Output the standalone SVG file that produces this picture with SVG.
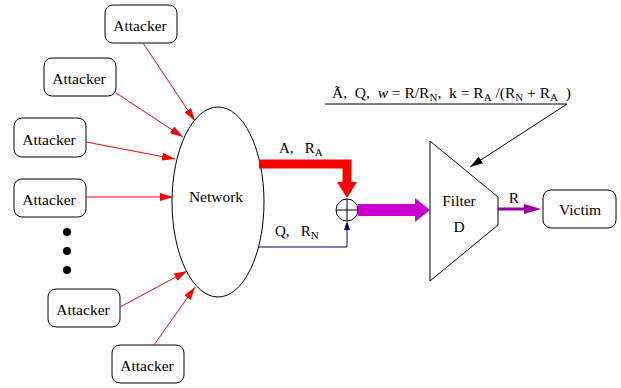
<svg xmlns="http://www.w3.org/2000/svg" width="621" height="388" viewBox="0 0 621 388" font-family="Liberation Serif, serif">
  <style>
    text { font-family: "Liberation Serif", serif; fill: #000; }
    .lbl { font-size: 15.5px; text-anchor: middle; }
    .box { fill: #fff; stroke: #000; stroke-width: 1; }
    .atk { stroke: #ff0000; stroke-width: 1; fill: none; }
    .sub { font-size: 11px; }
    .eq { font-size: 15px; }
    .formula { font-size: 15.5px; }
  </style>
  <defs>
    <marker id="redHead" markerWidth="14" markerHeight="8" refX="13" refY="4" orient="auto" markerUnits="userSpaceOnUse">
      <polygon points="0,0 13,4 0,8" fill="#ff0000"/>
    </marker>
    <marker id="blackHead" markerWidth="14" markerHeight="8" refX="13" refY="4" orient="auto" markerUnits="userSpaceOnUse">
      <polygon points="0,0 13,4 0,8" fill="#000"/>
    </marker>
  </defs>

  <!-- attacker sources -->
  <g id="attacker1"><rect class="box" x="105" y="5" width="72" height="38" rx="8"/><text class="lbl" x="140" y="31">Attacker</text></g>
  <g id="attacker2"><rect class="box" x="44" y="58" width="72" height="38" rx="8"/><text class="lbl" x="79" y="84">Attacker</text></g>
  <g id="attacker3"><rect class="box" x="14" y="118" width="72" height="39" rx="8"/><text class="lbl" x="49" y="145">Attacker</text></g>
  <g id="attacker4"><rect class="box" x="14" y="179" width="72" height="38" rx="8"/><text class="lbl" x="49" y="205">Attacker</text></g>
  <g id="attacker5"><rect class="box" x="48" y="289" width="72" height="38" rx="8"/><text class="lbl" x="83" y="315">Attacker</text></g>
  <g id="attacker6"><rect class="box" x="112" y="345" width="72" height="38" rx="8"/><text class="lbl" x="147" y="371">Attacker</text></g>

  <!-- ellipsis dots -->
  <g id="more">
    <circle cx="67" cy="232" r="4"/>
    <circle cx="67" cy="251" r="4"/>
    <circle cx="67" cy="270" r="4"/>
  </g>

  <!-- network cloud -->
  <g id="network">
    <ellipse cx="218" cy="202" rx="46" ry="95" fill="#fff" stroke="#000" stroke-width="1"/>
    <text class="lbl" x="216" y="202">Network</text>
  </g>

  <!-- summing junction -->
  <g id="sum">
    <circle cx="347" cy="210" r="11" fill="#fff" stroke="#000" stroke-width="1"/>
    <line x1="336" y1="210" x2="358" y2="210" stroke="#000" stroke-width="1"/>
    <line x1="347" y1="199" x2="347" y2="221" stroke="#000" stroke-width="1"/>
  </g>

  <!-- filter block -->
  <g id="filter">
    <polygon points="430,141 498,197 498,225 430,281" fill="#fff" stroke="#000" stroke-width="1"/>
    <text class="lbl" x="459" y="206">Filter</text>
    <text class="lbl" x="459" y="232">D</text>
  </g>

  <!-- victim -->
  <g id="victim"><rect class="box" x="543" y="190" width="73" height="38" rx="8"/><text class="lbl" x="580" y="215">Victim</text></g>

  <!-- parameter annotation -->
  <g id="params">
    <text class="formula" x="332" y="98" xml:space="preserve">Ã,  Q,  <tspan font-style="italic">w</tspan> = R/R<tspan class="sub" dy="3">N</tspan><tspan dy="-3">,  k = R</tspan><tspan class="sub" dy="3">A</tspan><tspan dy="-3"> /(R</tspan><tspan class="sub" dy="3">N</tspan><tspan dy="-3"> + R</tspan><tspan class="sub" dy="3">A</tspan><tspan dy="-3">  )</tspan></text>
  </g>

  <g id="connectors">
    <!-- attack traffic into the network -->
    <line class="atk" x1="143" y1="43" x2="195" y2="121" marker-end="url(#redHead)"/>
    <line class="atk" x1="116" y1="93" x2="183" y2="137" marker-end="url(#redHead)"/>
    <line class="atk" x1="86" y1="142" x2="175" y2="159" marker-end="url(#redHead)"/>
    <line class="atk" x1="86" y1="197" x2="173" y2="197" marker-end="url(#redHead)"/>
    <line class="atk" x1="120" y1="307" x2="187" y2="271" marker-end="url(#redHead)"/>
    <line class="atk" x1="154" y1="345" x2="195" y2="287" marker-end="url(#redHead)"/>

    <!-- attack stream A -->
    <path d="M259,164 H347 V183" fill="none" stroke="#ff0000" stroke-width="9"/>
    <polygon points="337,182 357,182 347,198" fill="#ff0000"/>
    <text class="eq" x="279" y="153" xml:space="preserve">A,   R<tspan class="sub" dy="3">A</tspan></text>

    <!-- normal stream Q -->
    <path d="M258,247 H347 V229" fill="none" stroke="#000080" stroke-width="1"/>
    <polygon points="344,230 350,230 347,221" fill="#000080"/>
    <text class="eq" x="275" y="236" xml:space="preserve">Q,   R<tspan class="sub" dy="3">N</tspan></text>

    <!-- aggregate into filter -->
    <rect x="358" y="204" width="58" height="12" fill="#cc00cc"/>
    <polygon points="415,198 415,222 430,210" fill="#cc00cc"/>

    <!-- filtered output -->
    <line x1="498" y1="209" x2="526" y2="209" stroke="#990099" stroke-width="3"/>
    <polygon points="524,204 524,214 541,209" fill="#990099"/>
    <text class="lbl" x="514" y="203">R</text>

    <!-- parameter feed -->
    <line x1="325" y1="104" x2="567" y2="104" stroke="#000" stroke-width="1"/>
    <line x1="567" y1="104" x2="470" y2="167" stroke="#000" stroke-width="1" marker-end="url(#blackHead)"/>
  </g>
</svg>
